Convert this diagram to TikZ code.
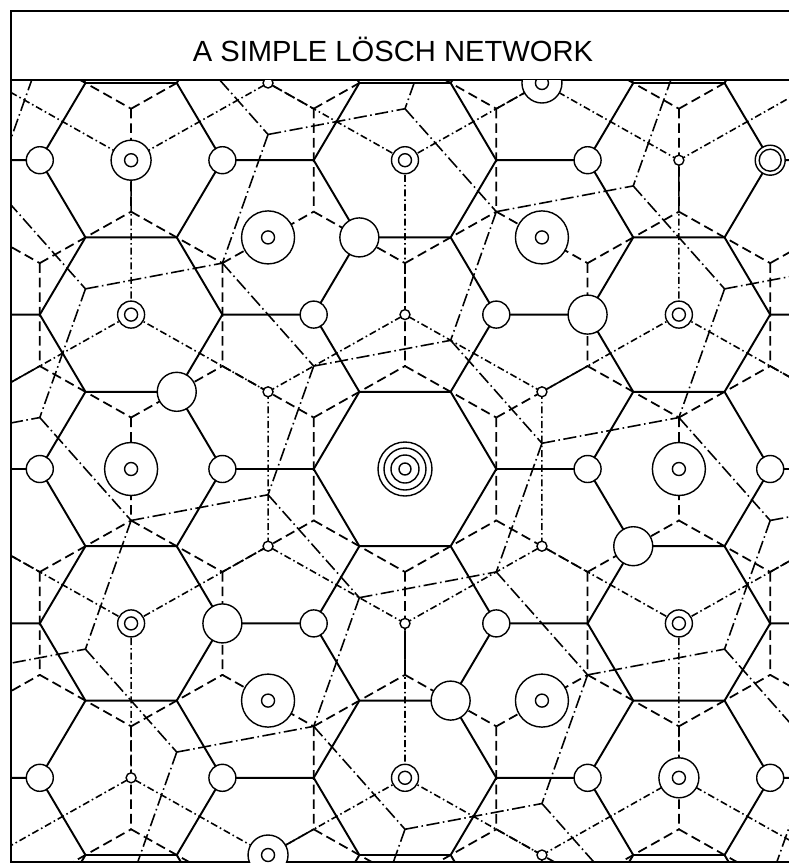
\documentclass[tikz,border=0pt]{standalone}
\usepackage{fontspec}
\setmainfont{Liberation Sans}
\usetikzlibrary{calc}

\begin{document}
\begin{tikzpicture}[
    k3line/.style={line width=1.1pt},
    k4line/.style={line width=1pt, dash pattern=on 5.5pt off 2.8pt},
    k7line/.style={line width=0.9pt, dash pattern=on 7.5pt off 2pt on 0.9pt off 2pt},
    k9line/.style={line width=0.9pt, dash pattern=on 4pt off 1.7pt on 0.9pt off 1.7pt},
    place/.style={circle, draw, line width=0.8pt, fill=white, inner sep=0pt},
    k3place/.style={place, minimum size=0.2cm},
    k4place/.style={place, minimum size=0.54cm},
    k7place/.style={place, minimum size=0.78cm},
    k12place/.style={place, minimum size=0.54cm,
        path picture={\draw[line width=0.8pt] (path picture bounding box.center) circle (0.13cm);}},
    k21place/.style={place, minimum size=0.8cm,
        path picture={\draw[line width=0.8pt] (path picture bounding box.center) circle (0.13cm);}},
    k28place/.style={place, minimum size=0.6cm,
        path picture={\draw[line width=0.8pt] (path picture bounding box.center) circle (0.22cm);}},
    k9place/.style={place, minimum size=1.06cm,
        path picture={\draw[line width=0.8pt] (path picture bounding box.center) circle (0.13cm);}},
    metro/.style={place, minimum size=1.08cm,
        path picture={\draw[line width=0.8pt] (path picture bounding box.center) circle (0.42cm)
            (path picture bounding box.center) circle (0.28cm)
            (path picture bounding box.center) circle (0.12cm);}},
    frame/.style={line width=1pt}
]
\useasboundingbox (0,0) rectangle (15.78,-17.28);

% frame and title
\draw[frame] (15.78,-0.22) -- (0.22,-0.22) -- (0.22,-17.24) -- (15.78,-17.24);
\draw[frame] (0.22,-1.6) -- (15.78,-1.6);
\node[font=\fontsize{16.6}{19}\selectfont] (title) at (7.86,-0.98) {A SIMPLE LÖSCH NETWORK};

\begin{scope}
\clip (0.22,-1.6) rectangle (15.78,-17.24);
% lattice axes: one step along a row, one row up
\begin{scope}[shift={(8.10,-9.38)}, x={(1.826cm,0cm)}, y={(0.913cm,1.544cm)}]

% K=3 market areas
\foreach \i in {-11,...,11}{
  \foreach \j in {-7,...,7}{
    \pgfmathtruncatemacro\r{mod(mod(\i-\j,3)+3,3)}
    \ifnum\r=1
      \draw[k3line] ({\i+1},{\j}) -- (\i,\j) -- ({\i},{\j-1}) (\i,\j) -- ({\i-1},{\j+1});
    \fi
  }
}

% K=9 market areas
\foreach \i in {-11,...,11}{
  \foreach \j in {-7,...,7}{
    \pgfmathtruncatemacro\r{mod(mod(\i-\j,3)+3,3)}
    \pgfmathtruncatemacro\s{mod(mod(\i,3)+3,3)}
    \ifnum\r=0 \ifnum\s=1
      \draw[k9line] (\i,\j) -- ({\i+1},{\j+1});
      \draw[k9line] (\i,\j) -- ({\i-2},{\j+1});
      \draw[k9line] (\i,\j) -- ({\i+1},{\j-2});
    \fi\fi
  }
}

% K=4 market areas
\foreach \a in {-5,...,5}{
  \foreach \b in {-4,...,4}{
    \pgfmathsetmacro\ci{2*\a}
    \pgfmathsetmacro\cj{2*\b}
    \draw[k4line] ({\ci+2/3},{\cj+2/3}) -- ({\ci+4/3},{\cj-2/3});
    \draw[k4line] ({\ci-2/3},{\cj+4/3}) -- ({\ci+2/3},{\cj+2/3});
    \draw[k4line] ({\ci-4/3},{\cj+2/3}) -- ({\ci-2/3},{\cj+4/3});
  }
}

% K=7 market areas
\foreach \a in {-6,...,6}{
  \foreach \b in {-6,...,6}{
    \pgfmathsetmacro\ci{\a+3*\b}
    \pgfmathsetmacro\cj{2*\a-\b}
    \draw[k7line] ({\ci+4/3},{\cj+1/3}) -- ({\ci+5/3},{\cj-4/3});
    \draw[k7line] ({\ci-1/3},{\cj+5/3}) -- ({\ci+4/3},{\cj+1/3});
    \draw[k7line] ({\ci-5/3},{\cj+4/3}) -- ({\ci-1/3},{\cj+5/3});
  }
}

% places
\foreach \i/\j [count=\n] in {-4/5, 1/4, -1/2, -2/1, 1/1, -1/-1, 2/-1, 1/-2, -1/-4, 4/-5}
  \node[k3place] (hamlet\n) at (\i,\j) {};
\foreach \i/\j [count=\n] in {-6/4, -4/4, 0/4, -2/2, 0/2, -4/0, -2/0, 2/0, 4/0, 0/-2, 2/-2, 0/-4, 4/-4, 6/-4, -2/-4}
  \node[k4place] (village\n) at (\i,\j) {};
\foreach \i/\j [count=\n] in {-2/3, 1/2, -3/1, 3/-1, -1/-2, 2/-3}
  \node[k7place] (market\n) at (\i,\j) {};
\foreach \i/\j [count=\n] in {-2/4, -4/2, 2/2, -2/-2, 4/-2, 2/-4}
  \node[k12place] (town\n) at (\i,\j) {};
\foreach \i/\j [count=\n] in {-5/4, -1/5, 5/-4, 1/-5}
  \node[k21place] (borough\n) at (\i,\j) {};
\node[k28place] (county1) at (2,4) {};
\foreach \i/\j [count=\n] in {-3/3, 0/3, -3/0, 3/0, 0/-3, 3/-3}
  \node[k9place] (city\n) at (\i,\j) {};
\node[metro] (metropolis) at (0,0) {};

\end{scope}
\end{scope}
\end{tikzpicture}
\end{document}
